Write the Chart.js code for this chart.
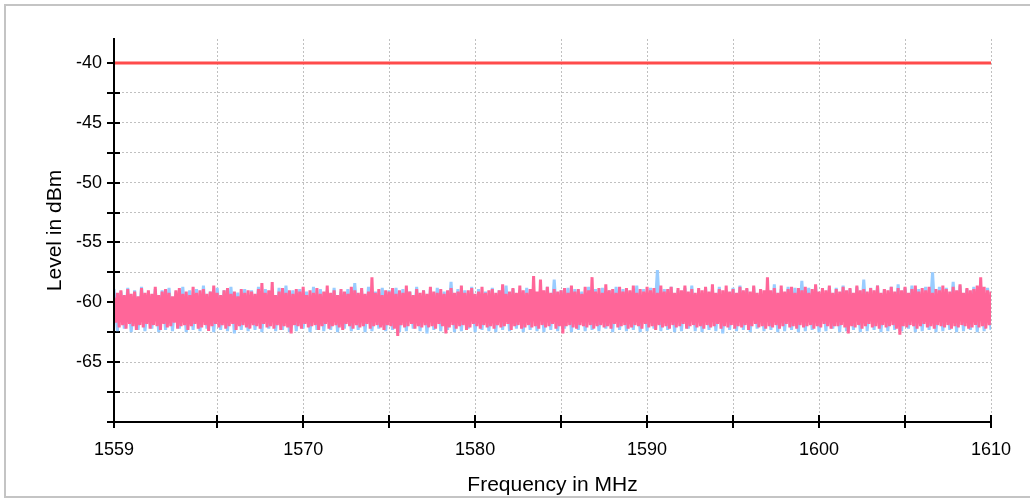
<!DOCTYPE html>
<html>
<head>
<meta charset="utf-8">
<script src="https://cdn.jsdelivr.net/npm/chart.js@4"></script>
<style>
  html, body { margin: 0; padding: 0; background: #fff; }
  #wrap { width: 1030px; height: 498px; }
</style>
</head>
<body>
<div id="wrap"><canvas id="spectrumChart" width="1030" height="498"></canvas></div>
<script>
// sweep: 1559 MHz to 1610 MHz
const startMHz = 1559;
const pinkStep = 0.1;
const blueStep = 0.2;

// axis ticks
const xTicks = [1559, 1565, 1570, 1575, 1580, 1585, 1590, 1595, 1600, 1605, 1610];
const yTicks = [-70, -67.5, -65, -62.5, -60, -57.5, -55, -52.5, -50, -47.5, -45, -42.5, -40];

// limit line
const limitX = [1559, 1610];
const limitLevel = [-40, -40];

// trace 1 (pink), level in dBm every 0.1 MHz
const pinkLevels = [
  -59.6,-61.7,-59.2,-62.1,-59.0,-61.9,-59.4,-62.2,-58.9,-61.8,-59.3,-62.0,-59.1,-62.3,-59.5,-61.9,-58.8,-62.1,-59.2,-61.8,
  -59.0,-62.2,-59.3,-61.9,-58.7,-62.0,-59.4,-62.3,-59.1,-61.8,-58.9,-62.1,-59.2,-62.0,-59.5,-61.7,-59.0,-62.2,-58.8,-62.0,
  -59.3,-61.9,-59.1,-62.3,-59.4,-62.0,-58.7,-61.8,-59.2,-62.2,-59.0,-62.1,-58.9,-61.9,-59.3,-62.4,-59.1,-62.0,-58.6,-61.8,
  -59.2,-62.1,-59.4,-61.9,-59.0,-62.2,-58.8,-62.0,-59.3,-61.8,-59.1,-62.3,-59.5,-62.0,-58.9,-61.9,-59.2,-62.1,-59.0,-62.2,
  -59.1,-61.9,-59.3,-62.0,-58.9,-62.2,-58.4,-61.8,-59.2,-62.1,-59.0,-62.0,-58.3,-62.2,-59.4,-61.9,-59.1,-62.3,-58.8,-62.0,
  -59.2,-62.1,-59.0,-62.6,-59.3,-61.9,-58.9,-62.0,-59.1,-62.2,-58.7,-61.8,-59.4,-62.1,-59.0,-62.0,-59.2,-61.9,-58.8,-62.3,
  -59.3,-62.0,-59.1,-61.8,-58.6,-62.2,-59.2,-62.0,-59.0,-61.9,-59.4,-62.1,-58.9,-62.3,-59.1,-61.8,-59.3,-62.0,-58.7,-62.2,
  -59.0,-61.9,-59.2,-62.1,-58.8,-62.0,-59.3,-61.8,-59.1,-62.2,-57.9,-62.0,-59.2,-61.9,-58.9,-62.1,-59.4,-62.3,-59.0,-61.9,
  -59.1,-62.0,-58.8,-62.2,-59.3,-62.8,-59.0,-61.9,-59.2,-62.1,-58.6,-62.0,-59.1,-61.8,-59.4,-62.2,-58.9,-62.0,-59.2,-62.1,
  -59.0,-61.9,-59.3,-62.1,-58.7,-62.0,-59.1,-62.2,-59.2,-61.8,-58.9,-62.0,-59.3,-62.6,-59.0,-62.1,-58.8,-61.9,-59.2,-62.2,
  -59.1,-62.0,-58.6,-61.9,-59.2,-62.3,-59.0,-62.1,-58.8,-61.8,-59.3,-62.0,-59.1,-62.2,-58.7,-61.9,-59.2,-62.1,-59.0,-62.0,
  -58.9,-62.2,-59.2,-61.9,-59.0,-62.1,-58.5,-62.0,-59.3,-61.8,-59.1,-62.3,-58.8,-62.0,-59.2,-61.9,-58.6,-62.2,-59.0,-62.1,
  -59.2,-61.9,-58.9,-62.1,-57.8,-62.0,-59.1,-62.2,-58.1,-61.9,-59.0,-62.1,-58.7,-62.0,-59.2,-61.8,-58.9,-62.2,-59.1,-62.0,
  -59.0,-62.6,-58.8,-62.0,-59.2,-61.9,-58.6,-62.1,-59.1,-62.2,-58.9,-61.9,-59.3,-62.0,-58.7,-62.1,-59.0,-61.9,-57.9,-62.2,
  -59.1,-62.0,-58.8,-61.9,-59.2,-62.1,-58.5,-62.0,-59.0,-62.2,-58.9,-61.8,-59.2,-62.1,-58.7,-62.0,-59.1,-61.9,-58.8,-62.2,
  -59.0,-62.1,-58.6,-61.9,-59.2,-62.0,-58.9,-62.2,-59.1,-61.8,-58.7,-62.1,-59.0,-62.0,-58.8,-62.3,-59.2,-61.9,-58.6,-62.1,
  -59.1,-62.0,-58.9,-62.2,-58.7,-61.9,-59.2,-62.1,-58.8,-62.0,-59.0,-61.8,-58.6,-62.2,-59.1,-62.0,-58.9,-61.9,-59.2,-62.1,
  -58.8,-62.0,-59.0,-62.2,-58.7,-61.9,-59.1,-62.1,-58.5,-62.0,-59.2,-61.8,-58.9,-62.2,-59.0,-62.0,-58.6,-62.1,-59.1,-61.9,
  -58.9,-62.2,-59.2,-62.0,-58.7,-62.1,-59.0,-61.9,-58.8,-62.3,-59.1,-62.0,-58.6,-61.8,-59.2,-62.1,-58.9,-62.0,-59.0,-62.2,
  -57.9,-62.0,-59.0,-62.1,-58.8,-61.9,-59.2,-62.2,-58.6,-62.0,-59.1,-61.8,-58.9,-62.1,-58.7,-62.0,-59.2,-62.2,-58.8,-61.9,
  -59.0,-62.1,-58.7,-62.0,-59.2,-61.9,-58.9,-62.2,-58.5,-62.0,-59.1,-62.1,-58.8,-61.8,-59.0,-62.0,-58.6,-62.2,-59.2,-62.0,
  -58.9,-62.0,-59.1,-61.9,-58.7,-62.1,-59.0,-62.6,-58.8,-62.0,-59.2,-62.1,-58.6,-61.9,-59.0,-62.2,-58.9,-62.0,-59.1,-61.8,
  -58.8,-62.1,-59.0,-62.0,-58.6,-62.2,-59.2,-61.9,-58.9,-62.1,-59.0,-62.0,-58.7,-61.9,-59.1,-62.2,-58.8,-62.7,-59.0,-62.0,
  -58.7,-62.1,-59.2,-61.9,-58.9,-62.0,-58.6,-62.2,-59.1,-62.0,-58.8,-61.8,-59.0,-62.1,-58.7,-62.0,-59.2,-62.2,-58.9,-61.9,
  -59.0,-62.0,-58.6,-62.1,-58.9,-61.9,-59.1,-62.2,-58.7,-62.0,-59.0,-62.1,-58.5,-61.9,-59.2,-62.0,-58.8,-62.2,-59.0,-62.1,
  -58.9,-61.9,-58.6,-62.1,-57.9,-62.0,-58.7,-62.2,-59.0,-61.9,-59.1
];

// trace 2 (light blue), level in dBm every 0.2 MHz
const blueLevels = [
  -58.9,-62.4,-59.1,-62.2,-58.8,-62.5,-59.0,-62.3,-58.7,-62.4,-59.2,-62.2,-58.9,-62.5,-59.0,-62.3,-58.8,-62.4,-59.1,-62.2,
  -58.7,-62.5,-59.0,-62.3,-58.9,-62.4,-58.6,-62.2,-59.1,-62.5,-58.8,-62.3,-59.0,-62.4,-58.7,-62.6,-59.2,-62.3,-58.9,-62.4,
  -59.0,-62.3,-58.7,-62.5,-58.9,-62.2,-59.1,-62.4,-58.8,-62.3,-58.6,-62.5,-59.0,-62.4,-58.9,-62.2,-59.1,-62.5,-58.7,-62.3,
  -58.9,-62.4,-59.0,-62.3,-58.8,-62.5,-59.1,-62.2,-58.9,-62.4,-58.4,-62.3,-59.0,-62.5,-58.7,-62.4,-59.1,-62.2,-58.8,-62.4,
  -59.0,-62.3,-58.8,-62.5,-58.9,-62.4,-59.1,-62.2,-58.7,-62.4,-59.0,-62.6,-58.9,-62.3,-58.8,-62.4,-59.1,-62.3,-58.3,-62.5,
  -58.9,-62.4,-59.0,-62.2,-58.7,-62.5,-58.9,-62.3,-59.1,-62.4,-58.8,-62.5,-59.0,-62.3,-58.6,-62.4,-58.9,-62.2,-59.0,-62.5,
  -58.8,-62.3,-59.0,-62.4,-58.9,-62.5,-58.7,-62.3,-58.1,-62.4,-59.0,-62.2,-58.8,-62.5,-58.9,-62.3,-59.1,-62.4,-58.7,-62.3,
  -58.9,-62.4,-58.8,-62.2,-59.0,-62.5,-58.7,-62.3,-58.9,-62.4,-59.1,-62.3,-58.6,-62.5,-58.9,-62.4,-58.8,-62.2,-57.3,-62.4,
  -58.9,-62.3,-58.7,-62.5,-59.0,-62.4,-58.8,-62.2,-58.6,-62.4,-59.0,-62.5,-58.8,-62.3,-58.9,-62.4,-58.7,-62.6,-59.0,-62.3,
  -58.8,-62.4,-58.6,-62.3,-58.9,-62.5,-58.7,-62.2,-59.0,-62.4,-58.8,-62.3,-58.5,-62.5,-58.9,-62.4,-58.7,-62.3,-58.8,-62.5,
  -58.2,-62.4,-58.8,-62.3,-58.6,-62.5,-58.9,-62.4,-58.7,-62.2,-58.8,-62.5,-58.6,-62.4,-58.9,-62.3,-58.7,-62.5,-58.1,-62.4,
  -58.8,-62.3,-58.6,-62.5,-58.9,-62.4,-58.7,-62.3,-58.5,-62.4,-58.8,-62.2,-58.6,-62.5,-58.9,-62.4,-58.7,-62.3,-57.5,-62.5,
  -58.7,-62.4,-58.8,-62.3,-58.3,-62.5,-58.6,-62.4,-58.9,-62.3,-58.7,-62.5,-58.6,-62.4,-58.8,-62.3
];

const pinkData = pinkLevels.map((v, i) => ({ x: startMHz + i * pinkStep, y: v }));
const blueData = blueLevels.map((v, i) => ({ x: startMHz + i * blueStep, y: v }));
const limitData = limitX.map((x, i) => ({ x: x, y: limitLevel[i] }));

Chart.defaults.font.family = '"Liberation Sans", Arial, Helvetica, sans-serif';
Chart.defaults.color = "#000";

// grey frame round the plot
const frame = {
  id: "frame",
  beforeDraw(chart) {
    const ctx = chart.ctx;
    ctx.save();
    ctx.fillStyle = "#fff";
    ctx.fillRect(0, 0, chart.width, chart.height);
    ctx.strokeStyle = "#c4c4c4";
    ctx.lineWidth = 2;
    ctx.beginPath();
    ctx.moveTo(chart.width, 5);
    ctx.lineTo(5, 5);
    ctx.lineTo(5, 497);
    ctx.lineTo(chart.width, 497);
    ctx.stroke();
    ctx.restore();
  },
};

// tick marks crossing the axes, then the axis lines on top
const axisTicks = {
  id: "axisTicks",
  beforeDatasetsDraw(chart) {
    const { ctx, chartArea, scales } = chart;
    ctx.save();
    ctx.strokeStyle = "#000";
    ctx.lineWidth = 2;
    ctx.beginPath();
    scales.x.ticks.forEach((t) => {
      const px = Math.round(scales.x.getPixelForValue(t.value));
      ctx.moveTo(px, chartArea.bottom - 7);
      ctx.lineTo(px, chartArea.bottom + 6);
    });
    scales.y.ticks.forEach((t) => {
      const py = Math.round(scales.y.getPixelForValue(t.value));
      ctx.moveTo(chartArea.left - 7, py);
      ctx.lineTo(chartArea.left + 6, py);
    });
    ctx.stroke();
    ctx.restore();
  },
  afterDatasetsDraw(chart) {
    const { ctx, chartArea } = chart;
    ctx.save();
    ctx.strokeStyle = "#000";
    ctx.lineWidth = 2;
    ctx.beginPath();
    ctx.moveTo(chartArea.left, chartArea.top - 1);
    ctx.lineTo(chartArea.left, chartArea.bottom);
    ctx.lineTo(chartArea.right, chartArea.bottom);
    ctx.stroke();
    ctx.restore();
  },
};

new Chart(document.getElementById("spectrumChart").getContext("2d"), {
  type: "line",
  data: {
    datasets: [
      {
        label: "Limit",
        data: limitData,
        borderColor: "#ff4b4b",
        borderWidth: 3,
        pointRadius: 0,
        order: 0,
      },
      {
        label: "Trace 1",
        data: pinkData,
        borderColor: "#ff6699",
        borderWidth: 3,
        pointRadius: 0,
        tension: 0,
        order: 1,
      },
      {
        label: "Trace 2",
        data: blueData,
        borderColor: "#99ccff",
        borderWidth: 3,
        pointRadius: 0,
        tension: 0,
        order: 2,
      },
    ],
  },
  options: {
    responsive: false,
    animation: false,
    events: [],
    layout: {
      padding: { left: 0, right: 39, top: 39, bottom: 0 },
    },
    plugins: {
      legend: { display: false },
      tooltip: { enabled: false },
    },
    scales: {
      x: {
        type: "linear",
        min: 1559,
        max: 1610,
        afterBuildTicks: (scale) => {
          scale.ticks = xTicks.map((v) => ({ value: v }));
        },
        afterFit: (scale) => {
          scale.height = 76;
        },
        grid: { color: "#c0c0c0", lineWidth: 1, drawTicks: false },
        border: { display: false, dash: [2, 2] },
        ticks: {
          autoSkip: false,
          maxRotation: 0,
          padding: 17,
          font: { size: 18 },
          callback: (v) => (v === 1559 || v % 10 === 0 ? String(v) : ""),
        },
        title: {
          display: true,
          text: "Frequency in MHz",
          font: { size: 21 },
          padding: { top: 0, bottom: 0 },
        },
      },
      y: {
        type: "linear",
        min: -70,
        max: -38,
        afterBuildTicks: (scale) => {
          scale.ticks = yTicks.map((v) => ({ value: v }));
        },
        afterFit: (scale) => {
          scale.width = 114;
        },
        grid: { color: "#c0c0c0", lineWidth: 1, drawTicks: false },
        border: { display: false, dash: [2, 2] },
        ticks: {
          autoSkip: false,
          padding: 12,
          font: { size: 18 },
          callback: (v) => (v > -70 && v % 5 === 0 ? String(v) : ""),
        },
        title: {
          display: true,
          text: "Level in dBm",
          font: { size: 21 },
          padding: { top: 43, bottom: 0 },
        },
      },
    },
  },
  plugins: [frame, axisTicks],
});
</script>
</body>
</html>
